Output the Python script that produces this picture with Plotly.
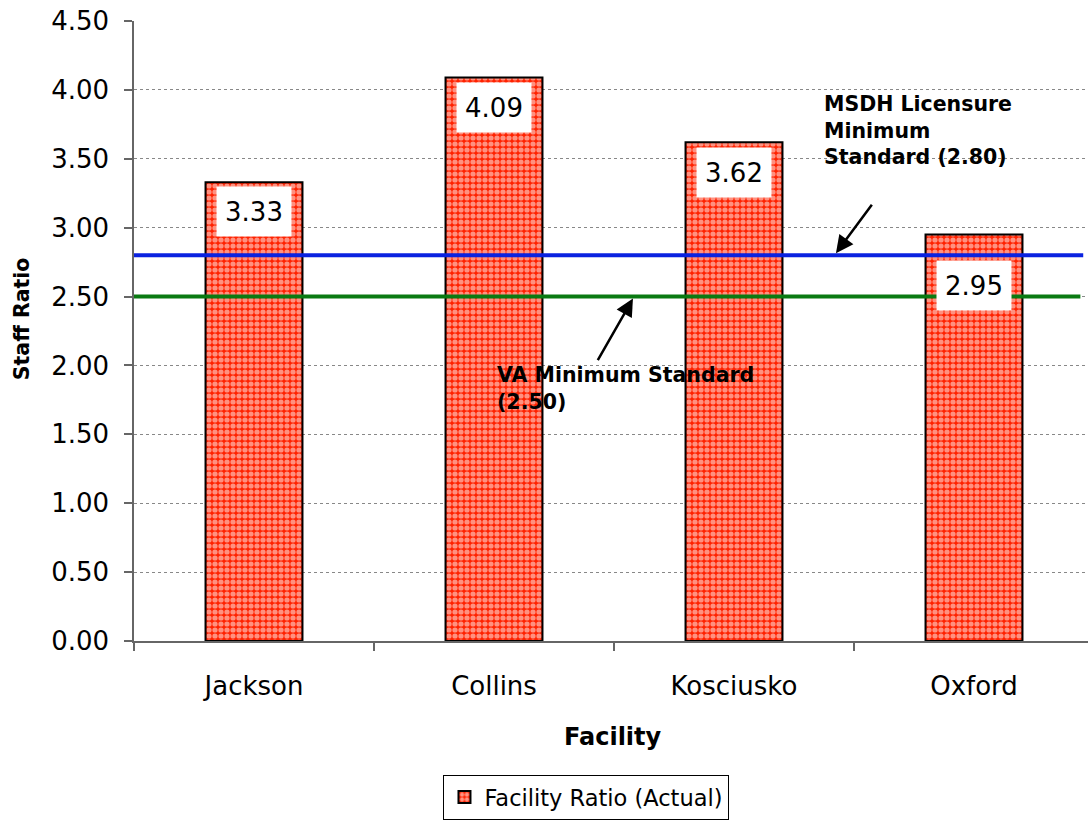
import plotly.graph_objects as go

facilities = ["Jackson", "Collins", "Kosciusko", "Oxford"]
ratios = [3.33, 4.09, 3.62, 2.95]
label_drop = [4, 5, 5, 25]  # pixels between bar top and its value box
msdh_standard = 2.80
va_standard = 2.50
y_ticks = [0, 0.5, 1, 1.5, 2, 2.5, 3, 3.5, 4, 4.5]

FONT = "DejaVu Sans"
PLOT_W = 1088 - 134  # plot area width in px, one category = 240 px
x_range = [-0.5, -0.5 + PLOT_W / 240]

fig = go.Figure()
fig.add_trace(go.Bar(
    x=facilities,
    y=ratios,
    name="Facility Ratio (Actual)",
    width=0.404,
    marker=dict(
        color="#ff2200",
        line=dict(color="black", width=2),
        pattern=dict(shape=".", bgcolor="#ff2200", fgcolor="white",
                     size=6, solidity=0.6, fillmode="overlay"),
    ),
    showlegend=True,
))

# value boxes at the top of each bar
for f, v, d in zip(facilities, ratios, label_drop):
    fig.add_annotation(
        x=f, y=v, text=f"{v:.2f}", showarrow=False,
        yanchor="top", yshift=-d, bgcolor="white",
        width=72, height=47,
        font=dict(family=FONT, size=26, color="black"),
    )

# standard reference lines
fig.add_shape(type="line", xref="paper", x0=0, x1=0.995, yref="y",
              y0=msdh_standard, y1=msdh_standard,
              line=dict(color="#0a22e0", width=4), layer="above")
fig.add_shape(type="line", xref="paper", x0=0, x1=0.992, yref="y",
              y0=va_standard, y1=va_standard,
              line=dict(color="#0a7a12", width=4), layer="above")

# callouts
fig.add_annotation(xref="paper", x=0.7358, y=msdh_standard, ax=37, ay=-50,
                   showarrow=True, arrowhead=2, arrowsize=1.4, arrowwidth=2.5,
                   arrowcolor="black", text="", yshift=2)
fig.add_annotation(xref="paper", x=0.7212, yref="y", y=4.0,
                   text="MSDH Licensure<br>Minimum<br>Standard (2.80)",
                   showarrow=False, xanchor="left", yanchor="top", align="left",
                   font=dict(family=FONT, size=20.5, color="black", weight="bold"))
fig.add_annotation(xref="paper", x=0.523, y=va_standard, ax=-36, ay=63,
                   showarrow=True, arrowhead=2, arrowsize=1.4, arrowwidth=2.5,
                   arrowcolor="black", text="", yshift=-2)
fig.add_annotation(xref="paper", x=0.3784, yref="y", y=2.03,
                   text="VA Minimum Standard<br>(2.50)",
                   showarrow=False, xanchor="left", yanchor="top", align="left",
                   font=dict(family=FONT, size=20.5, color="black", weight="bold"))

# axis titles
fig.add_annotation(xref="paper", yref="paper", x=-0.1174, y=0.519,
                   xanchor="center", yanchor="middle",
                   text="Staff Ratio", textangle=-90, showarrow=False,
                   font=dict(family=FONT, size=20.5, color="black", weight="bold"))
fig.add_annotation(xref="paper", yref="paper", x=0.502, y=-0.155,
                   xanchor="center", yanchor="middle",
                   text="Facility", showarrow=False,
                   font=dict(family=FONT, size=24, color="black", weight="bold"))

fig.update_layout(
    width=1088, height=821,
    margin=dict(l=134, r=0, t=21, b=180, autoexpand=False),
    plot_bgcolor="white", paper_bgcolor="white",
    font=dict(family=FONT, color="black"),
    legend=dict(orientation="h", x=0.4743, xanchor="center", y=-0.216,
                yanchor="top", bordercolor="black", borderwidth=1,
                font=dict(family=FONT, size=22.5, color="black")),
    xaxis=dict(
        range=x_range, automargin=False,
        tickfont=dict(family=FONT, size=26),
        showline=True, linecolor="#666", linewidth=1.5,
        ticks="outside", ticklen=8, tickcolor="#666", tickwidth=1.5,
        tickson="boundaries", ticklabelstandoff=21,
        showgrid=False,
    ),
    yaxis=dict(
        range=[0, 4.5], tickvals=y_ticks, tickformat=".2f", automargin=False,
        tickfont=dict(family=FONT, size=26),
        showline=True, linecolor="#666", linewidth=1.5,
        ticks="outside", ticklen=8, tickcolor="#666", tickwidth=1.5,
        ticklabelstandoff=10,
        showgrid=True, gridcolor="#888", griddash="dot", gridwidth=1,
        zeroline=False,
    ),
)

fig.write_html("out.html")
